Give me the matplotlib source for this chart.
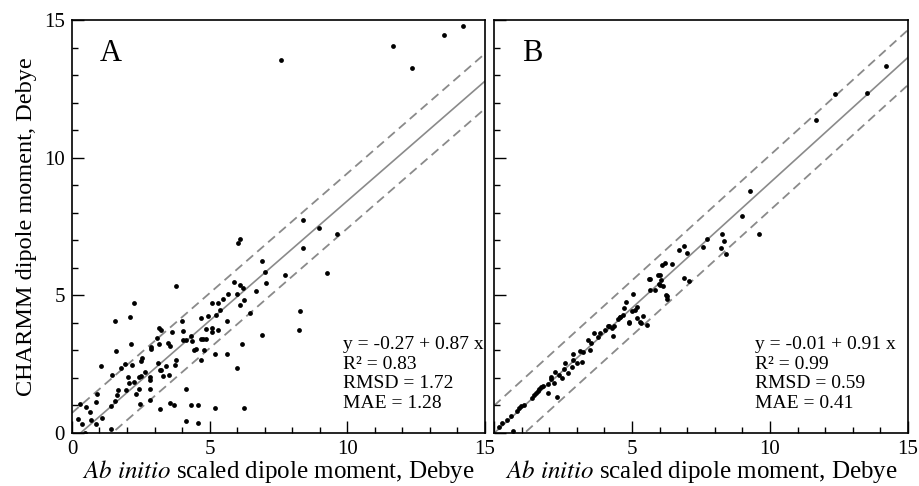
import matplotlib
matplotlib.use("Agg")
import matplotlib.pyplot as plt
import numpy as np

plt.rcParams['font.family'] = ['Liberation Serif', 'DejaVu Serif']
plt.rcParams['mathtext.fontset'] = 'stix'

# panel A: CHARMM vs ab initio
a_x = [0.46, 0.22, 0.36, 0.7, 0.88, 1.1, 0.3, 0.52, 0.64, 0.88, 0.92, 1.04, 1.42, 1.4, 1.55,
       1.65, 1.67, 1.45, 1.61, 1.57, 1.77, 1.94, 1.98, 2.04, 2.06, 2.13, 2.12, 2.25, 2.19, 2.24,
       2.31, 2.42, 2.52, 2.44, 2.64, 2.46, 2.52, 2.55, 2.82, 2.82, 2.85, 2.82, 2.88, 2.88, 3.09,
       3.15, 3.22, 3.15, 3.13, 3.19, 3.25, 3.21, 3.31, 3.41, 3.52, 3.48, 3.55, 3.55, 3.65, 3.71,
       3.73, 3.77, 3.79, 4.0, 4.04, 4.04, 4.13, 4.13, 4.13, 4.32, 4.35, 4.32, 4.44, 4.49, 4.58,
       4.58, 4.69, 4.76, 4.88, 4.68, 4.8, 4.88, 4.69, 4.95, 5.07, 5.07, 5.19, 5.19, 5.22, 5.31,
       5.39, 5.1, 5.3, 5.5, 5.64, 5.64, 5.65, 5.88, 6.01, 5.99, 6.1, 6.2, 6.25, 6.1, 6.16,
       6.25, 6.46, 6.68, 6.89, 6.9, 7.0, 7.04, 7.73, 6.04, 6.11, 8.4, 8.38, 8.98, 9.61, 9.28,
       8.28, 8.24, 7.58, 11.65, 12.36, 13.52, 14.22]
a_y = [0.0, 0.5, 0.34, 0.46, 0.34, 0.54, 1.04, 0.94, 0.76, 1.13, 1.43, 2.45, 0.16, 0.98, 1.15,
       1.37, 1.55, 2.12, 2.98, 4.07, 2.37, 2.49, 1.57, 2.03, 1.83, 3.24, 4.21, 4.72, 2.48, 1.85,
       1.43, 2.03, 2.07, 1.6, 2.21, 1.07, 2.6, 2.72, 2.03, 1.91, 1.59, 1.19, 3.06, 3.12, 3.45,
       3.83, 3.75, 3.22, 2.54, 2.28, 2.28, 0.88, 2.06, 2.42, 2.12, 3.27, 3.15, 1.1, 3.68, 1.0,
       2.46, 2.66, 5.34, 4.06, 3.7, 3.37, 3.37, 1.59, 0.44, 3.51, 3.34, 1.0, 3.0, 3.06, 1.0,
       0.36, 3.43, 3.4, 3.4, 2.64, 3.0, 3.77, 4.16, 4.24, 3.67, 3.81, 2.88, 0.92, 4.27, 3.73,
       4.48, 4.73, 4.73, 4.88, 4.06, 2.87, 5.06, 5.48, 5.06, 2.37, 5.39, 5.28, 4.84, 4.64, 3.24,
       0.92, 4.36, 5.15, 3.55, 6.25, 5.85, 5.46, 5.75, 6.9, 7.06, 6.72, 7.74, 7.43, 7.24, 5.82,
       4.43, 3.75, 13.54, 14.07, 13.26, 14.44, 14.77]

# panel B: after scaling
b_x = [0.18, 0.3, 0.48, 0.63, 0.7, 0.85, 0.91, 0.99, 1.09, 1.39, 1.45, 1.52, 1.58, 1.64, 1.7,
       1.76, 1.94, 1.96, 2.06, 2.08, 2.16, 2.21, 2.28, 2.36, 2.48, 2.52, 2.57, 2.67, 2.81, 2.85,
       2.88, 3.01, 3.13, 3.18, 3.21, 3.42, 3.49, 3.52, 3.64, 3.76, 3.85, 4.03, 4.15, 4.33, 4.27,
       4.48, 4.57, 4.67, 4.72, 4.79, 4.91, 4.99, 5.05, 5.11, 5.17, 5.17, 5.32, 5.4, 5.64, 5.66,
       5.84, 6.0, 6.03, 6.12, 6.09, 6.21, 6.27, 6.45, 6.7, 6.9, 7.0, 6.9, 7.06, 7.58, 7.73,
       5.96, 5.98, 6.04, 5.63, 6.22, 6.26, 4.89, 5.53, 5.29, 4.12, 4.36, 4.58,
       8.28, 8.35, 8.24, 8.4, 8.98, 9.29, 9.61, 11.65, 12.34, 13.5, 14.19]
b_y = [0.23, 0.35, 0.47, 0.62, 0.08, 0.81, 0.9, 0.98, 1.03, 1.26, 1.38, 1.47, 1.54, 1.59, 1.66,
       1.71, 1.44, 1.78, 1.95, 2.02, 1.83, 2.23, 1.32, 2.11, 1.99, 2.32, 2.56, 2.19, 2.41, 2.65,
       2.87, 2.53, 2.99, 2.59, 2.96, 3.38, 3.02, 3.26, 3.62, 3.5, 3.65, 3.75, 3.89, 3.53, 3.8,
       4.13, 4.23, 4.29, 4.53, 4.77, 4.01, 4.45, 5.06, 4.48, 4.58, 4.18, 4.0, 4.24, 5.18, 5.59,
       5.2, 5.75, 5.39, 5.33, 6.11, 6.17, 4.97, 6.14, 6.63, 6.78, 6.54, 5.62, 5.53, 6.75, 7.06,
       5.73, 5.42, 5.54, 5.58, 5.0, 4.88, 4.03, 3.91, 4.03, 3.89, 3.87, 4.23,
       7.23, 6.97, 6.73, 6.51, 7.88, 8.8, 7.22, 11.38, 12.32, 12.35, 13.32]

# fit lines and stats shown in each panel
fits = [(-0.27, 0.87), (-0.01, 0.91)]
stats = [("0.83", "1.72", "1.28"), ("0.99", "0.59", "0.41")]
panel_names = ["A", "B"]
text_x = [9.85, 9.45]

fig = plt.figure(figsize=(9.19, 4.86), dpi=100)
axA = fig.add_axes([0.0783, 0.109, 0.4494, 0.8498])
axB = fig.add_axes([0.5375, 0.109, 0.4505, 0.8498])

xs = np.array([0, 15])
for i, (ax, px, py) in enumerate([(axA, a_x, a_y), (axB, b_x, b_y)]):
    b0, b1 = fits[i]
    ax.plot(xs, b0 + b1 * xs, color='#8a8a8a', lw=1.2, zorder=1)
    ax.plot(xs, b0 + b1 * xs + 1, color='#8a8a8a', lw=1.3, ls=(0, (5, 3)), zorder=1)
    ax.plot(xs, b0 + b1 * xs - 1, color='#8a8a8a', lw=1.3, ls=(0, (5, 3)), zorder=1)
    ax.scatter(px, py, s=12, color='black', zorder=3, linewidths=0)
    ax.set_xlim(0, 15)
    ax.set_ylim(0, 15)
    ax.set_xticks([0, 5, 10, 15])
    ax.set_yticks([0, 5, 10, 15])
    ax.set_xticks(range(16), minor=True)
    ax.set_yticks(range(16), minor=True)
    ax.tick_params(which='major', direction='in', length=8.5, width=1, labelsize=15,
                   top=False, right=False, pad=5)
    ax.tick_params(which='minor', direction='in', length=4.3, width=1, top=False, right=False)
    for sp in ax.spines.values():
        sp.set_linewidth(1.2)
    ax.text(1.0, 13.5, panel_names[i], fontsize=22, va='baseline')
    r2, rmsd, mae = stats[i]
    txt = (f"y = {b0:.2f} + {b1:.2f} x\nR\u00b2 = {r2}\nRMSD = {rmsd}\nMAE = {mae}")
    ax.text(text_x[i], 0.91, txt, fontsize=14, va='baseline', ha='left', linespacing=1.2)
    ax.set_xlabel(r"$\it{Ab\ initio}$ scaled dipole moment, Debye", fontsize=18, labelpad=-1)

axA.set_ylabel("CHARMM dipole moment, Debye", fontsize=17.5, labelpad=5)
axB.set_yticklabels([])
axB.set_xticklabels(['', '5', '10', '15'])

fig.savefig("out.png", dpi=100)
